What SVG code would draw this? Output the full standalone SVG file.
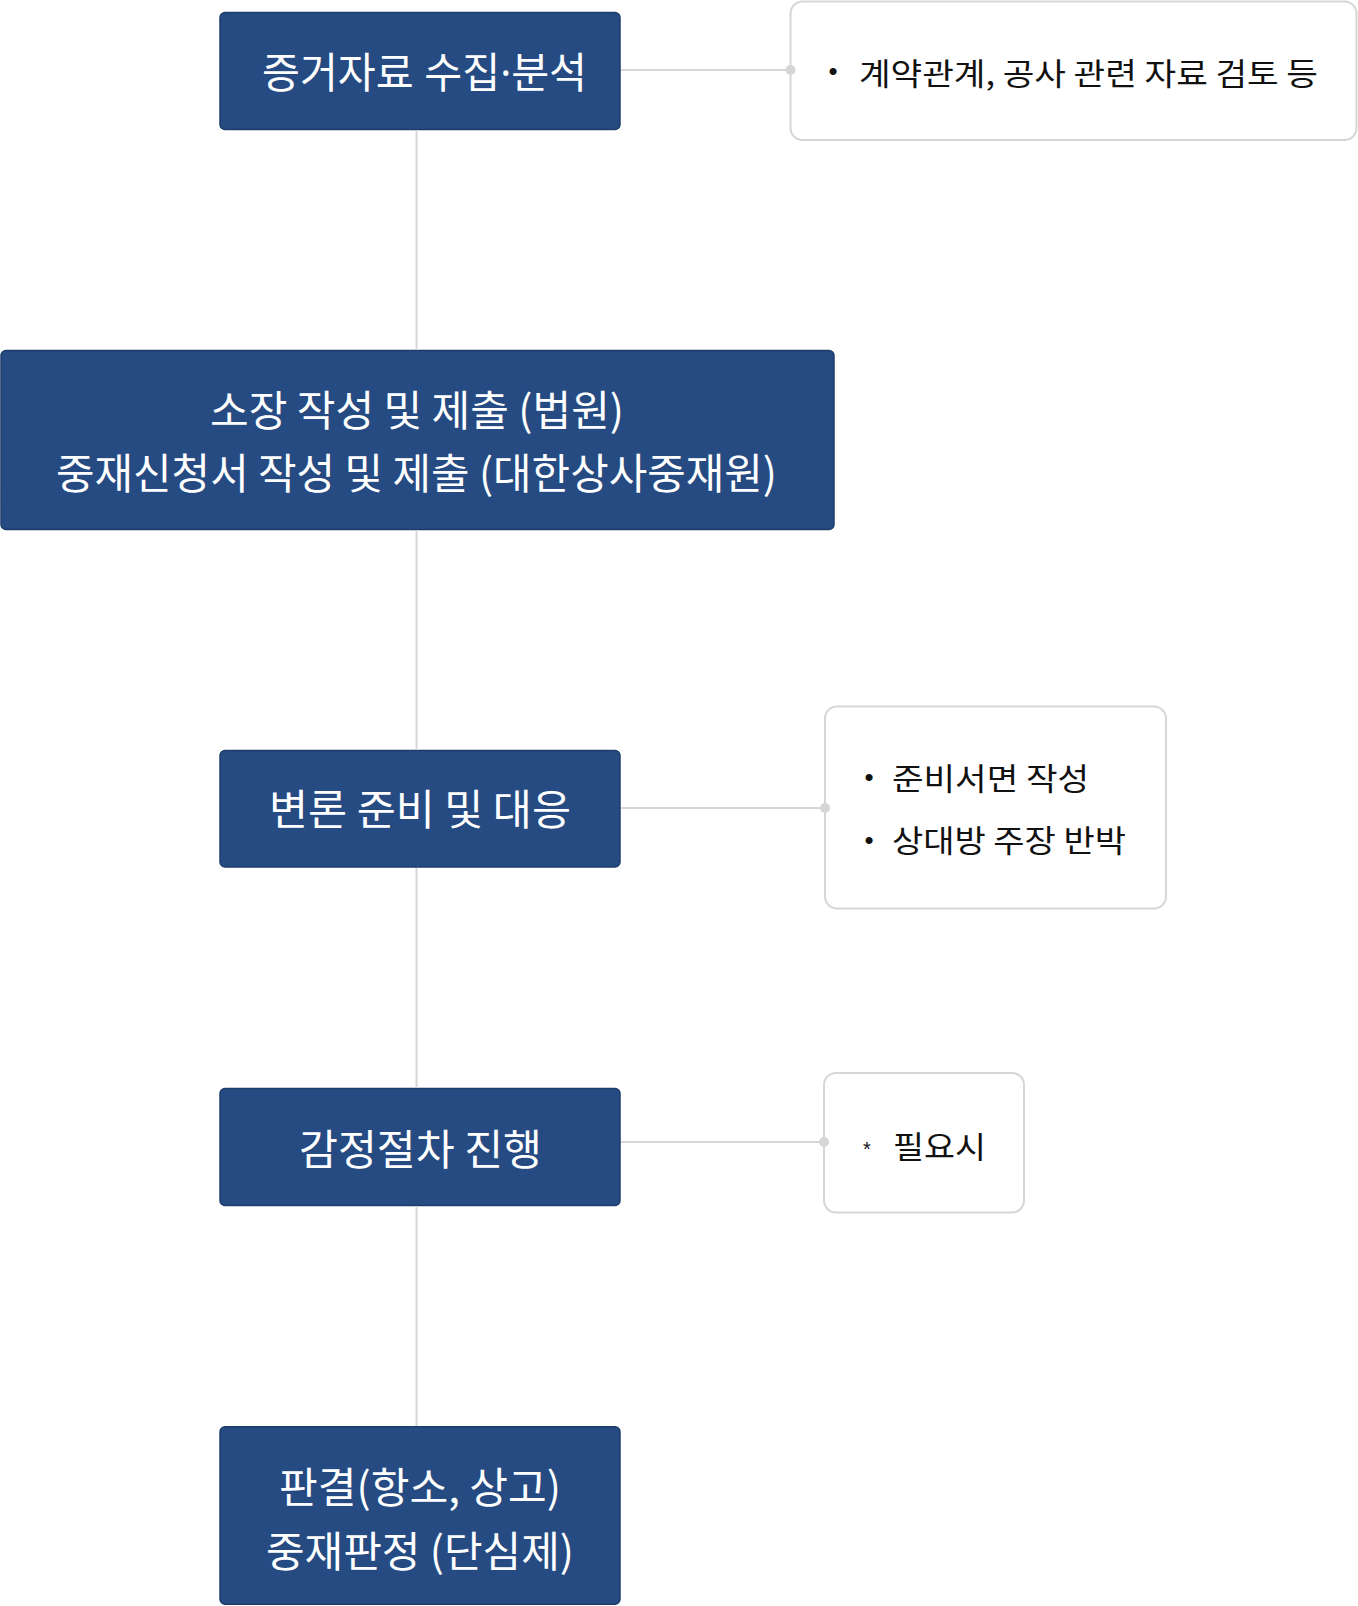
<svg xmlns="http://www.w3.org/2000/svg" width="1358" height="1606" viewBox="0 0 1358 1606">
<style>
.step rect{fill:#254b82;stroke:#1d3c6a;stroke-width:1.5}
.step text{fill:#ffffff;font-family:"Noto Sans CJK KR","Noto Sans",sans-serif;font-size:42px}
.note rect{fill:#ffffff;stroke:#d6d6d6;stroke-width:2}
.note text{fill:#111111;font-family:"Noto Sans CJK KR","Noto Sans",sans-serif;font-size:31px}
.note .bullet{font-family:"Liberation Sans",sans-serif;font-size:26px}
.conn line{stroke:#d6d6d6;stroke-width:2}
.conn circle{fill:#d6d6d6}
.step text.latin{font-family:"Noto Sans","Noto Sans CJK KR",sans-serif}
</style>
<rect width="1358" height="1606" fill="#ffffff"/>
<g id="step1" class="step">
<rect x="220" y="12.5" width="400" height="117" rx="5"/>
<text class="latin" x="262" y="88" textLength="325" lengthAdjust="spacingAndGlyphs">증거자료 수집·분석</text>
</g>
<g id="note1" class="note">
<rect x="790.5" y="1.5" width="566" height="138.5" rx="12"/>
<text class="bullet" x="833" y="80" text-anchor="middle">•</text>
<text x="859" y="84.5" textLength="459" lengthAdjust="spacingAndGlyphs">계약관계, 공사 관련 자료 검토 등</text>
</g>
<g id="step2" class="step">
<rect x="1" y="350.5" width="833" height="179" rx="5"/>
<text x="210" y="426" textLength="414" lengthAdjust="spacingAndGlyphs">소장 작성 및 제출 (법원)</text>
<text x="56" y="489" textLength="721" lengthAdjust="spacingAndGlyphs">중재신청서 작성 및 제출 (대한상사중재원)</text>
</g>
<g id="step3" class="step">
<rect x="220" y="750.5" width="400" height="116.5" rx="5"/>
<text x="269" y="825" textLength="302" lengthAdjust="spacingAndGlyphs">변론 준비 및 대응</text>
</g>
<g id="note3" class="note">
<rect x="825" y="706.5" width="341" height="202" rx="12"/>
<text class="bullet" x="869" y="786" text-anchor="middle">•</text>
<text x="892" y="789.5" textLength="197" lengthAdjust="spacingAndGlyphs">준비서면 작성</text>
<text class="bullet" x="869" y="848.5" text-anchor="middle">•</text>
<text x="892" y="852" textLength="234" lengthAdjust="spacingAndGlyphs">상대방 주장 반박</text>
</g>
<g id="step4" class="step">
<rect x="220" y="1088.5" width="400" height="117" rx="5"/>
<text x="299" y="1165" textLength="243" lengthAdjust="spacingAndGlyphs">감정절차 진행</text>
</g>
<g id="note4" class="note">
<rect x="824" y="1073" width="200" height="139.5" rx="12"/>
<text class="bullet" x="867" y="1156" text-anchor="middle" style="font-size:20px">*</text>
<text x="893" y="1157.5" textLength="93" lengthAdjust="spacingAndGlyphs">필요시</text>
</g>
<g id="step5" class="step">
<rect x="220" y="1426.7" width="400" height="177.5" rx="5"/>
<text x="279" y="1503" textLength="282" lengthAdjust="spacingAndGlyphs">판결(항소, 상고)</text>
<text x="266" y="1567" textLength="308" lengthAdjust="spacingAndGlyphs">중재판정 (단심제)</text>
</g>
<g id="connectors" class="conn">
<line x1="416.5" y1="130" x2="416.5" y2="350"/>
<line x1="416.5" y1="530" x2="416.5" y2="750"/>
<line x1="416.5" y1="868" x2="416.5" y2="1088"/>
<line x1="416.5" y1="1206" x2="416.5" y2="1426"/>
<line x1="621" y1="70" x2="790" y2="70"/>
<circle cx="790.5" cy="70" r="5"/>
<line x1="621" y1="808" x2="825" y2="808"/>
<circle cx="825" cy="808" r="5"/>
<line x1="621" y1="1142" x2="824" y2="1142"/>
<circle cx="824" cy="1142" r="5"/>
</g>
</svg>
